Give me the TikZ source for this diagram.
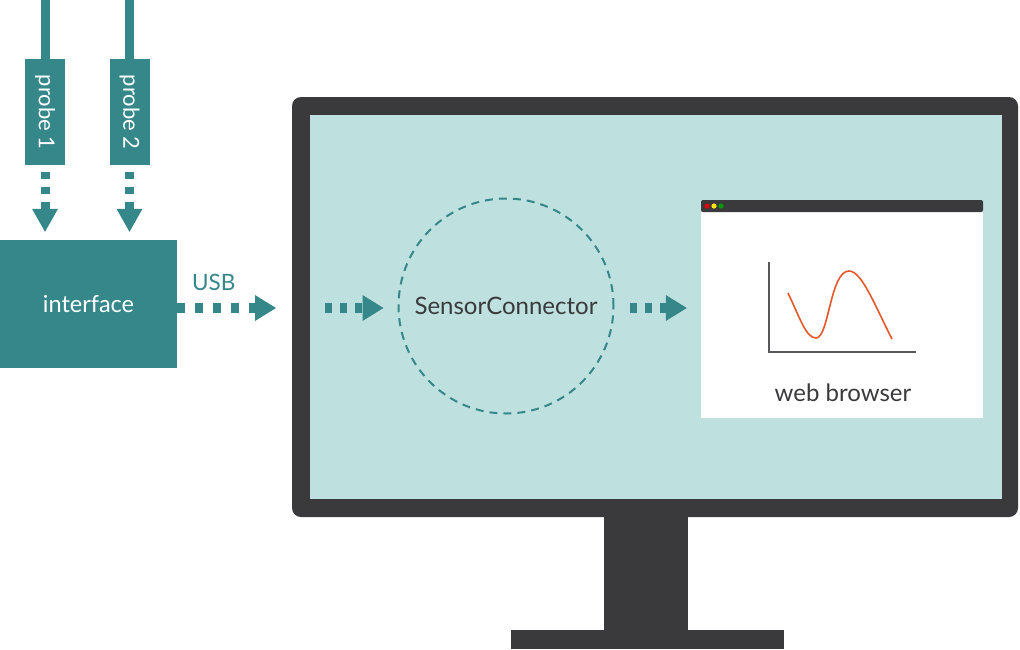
\documentclass[tikz,border=0pt]{standalone}
\usepackage{fontspec}
\setmainfont{Lato}
\usetikzlibrary{arrows.meta}
\definecolor{teal1}{HTML}{358789}
\definecolor{screen}{HTML}{BEE0DF}
\definecolor{bezel}{HTML}{3A3A3C}
\definecolor{curve}{HTML}{E5582A}
\definecolor{axis}{HTML}{58585A}
\tikzset{
  probebox/.style={fill=teal1, text=white, rotate=-90, minimum width=106pt, minimum height=40pt, inner sep=0pt, font=\fontsize{22}{25}\selectfont},
  cable/.style={draw=teal1, line width=9pt},
  vdot/.style={draw=teal1, line width=9pt, dash pattern=on 7pt off 8pt, -{Triangle[length=23pt,width=26pt,line width=0pt]}, teal1},
  hdot/.style={draw=teal1, line width=10pt, dash pattern=on 8pt off 10pt, -{Triangle[length=21pt,width=26pt,line width=0pt]}, teal1},
  hdots/.style={hdot, dash pattern=on 7pt off 8pt},
  ifacebox/.style={fill=teal1, text=white, minimum width=177pt, minimum height=128pt, inner sep=0pt, font=\fontsize{23.5}{26}\selectfont},
  sclabel/.style={circle, draw=teal1, line width=2pt, dash pattern=on 8pt off 6pt, minimum size=215pt, inner sep=0pt, text=bezel, font=\fontsize{24}{28}\selectfont},
  browserbox/.style={fill=white, minimum width=282pt, minimum height=206pt, inner sep=0pt},
  plain/.style={text=bezel, font=\fontsize{24}{28}\selectfont}
}
\begin{document}
\begin{tikzpicture}[x=1pt, y=-1pt]
\useasboundingbox (0,0) rectangle (1020,649);
% monitor
\fill[bezel, rounded corners=9pt] (292,97) rectangle (1018,517);
\fill[screen] (310,115) rectangle (1002,499);
\fill[bezel] (604,516) rectangle (688,631);
\fill[bezel] (511,630) rectangle (784,649);
% probes
\node[probebox] (p1) at (45,112) {probe 1};
\node[probebox] (p2) at (129.5,112) {probe 2};
\coordinate (c1) at (45,0);
\coordinate (c2) at (129.5,0);
\draw[cable] (c1) -- (p1);
\draw[cable] (c2) -- (p2);
% interface
\node[ifacebox] (iface) at (88.5,304) {interface};
\draw[vdot, shorten <=7pt, shorten >=8pt] (p1) -- (p1 |- iface.north);
\draw[vdot, shorten <=7pt, shorten >=8pt] (p2) -- (p2 |- iface.north);
\coordinate (usbend) at (276,308);
\draw[hdot] (iface.east |- usbend) -- (usbend) node[pos=0.37, above=9pt, text=teal1, font=\fontsize{22.5}{25}\selectfont] {USB};
% sensor connector
\node[sclabel] (sc) at (506,306) {SensorConnector};
\coordinate (inL) at (325,308);
\draw[hdots, shorten >=14pt] (inL) -- (sc.west |- inL);
% browser
\node[browserbox] (br) at (842,315) {};
\fill[bezel, rounded corners=2pt] (701,212) -- (701,200) -- (983,200) -- (983,212) -- cycle;
\fill[red!90!black] (707,206) circle (2.6pt);
\fill[yellow!90!orange] (714,206) circle (2.6pt);
\fill[green!60!black] (721,206) circle (2.6pt);
\draw[hdots, shorten <=15pt, shorten >=14pt] (sc.east |- inL) -- (br.west |- inL);
\draw[axis, line width=2.5pt] (769,262) -- (769,352) -- (916,352);
\draw[curve, line width=1.6pt] (788,293) .. controls (800,318) and (806,338) .. (816,338) .. controls (829,338) and (830,271) .. (849,271) .. controls (862,271) and (875,306) .. (892,339);
\node[plain] (wb) at (843,393) {web browser};
\end{tikzpicture}
\end{document}
